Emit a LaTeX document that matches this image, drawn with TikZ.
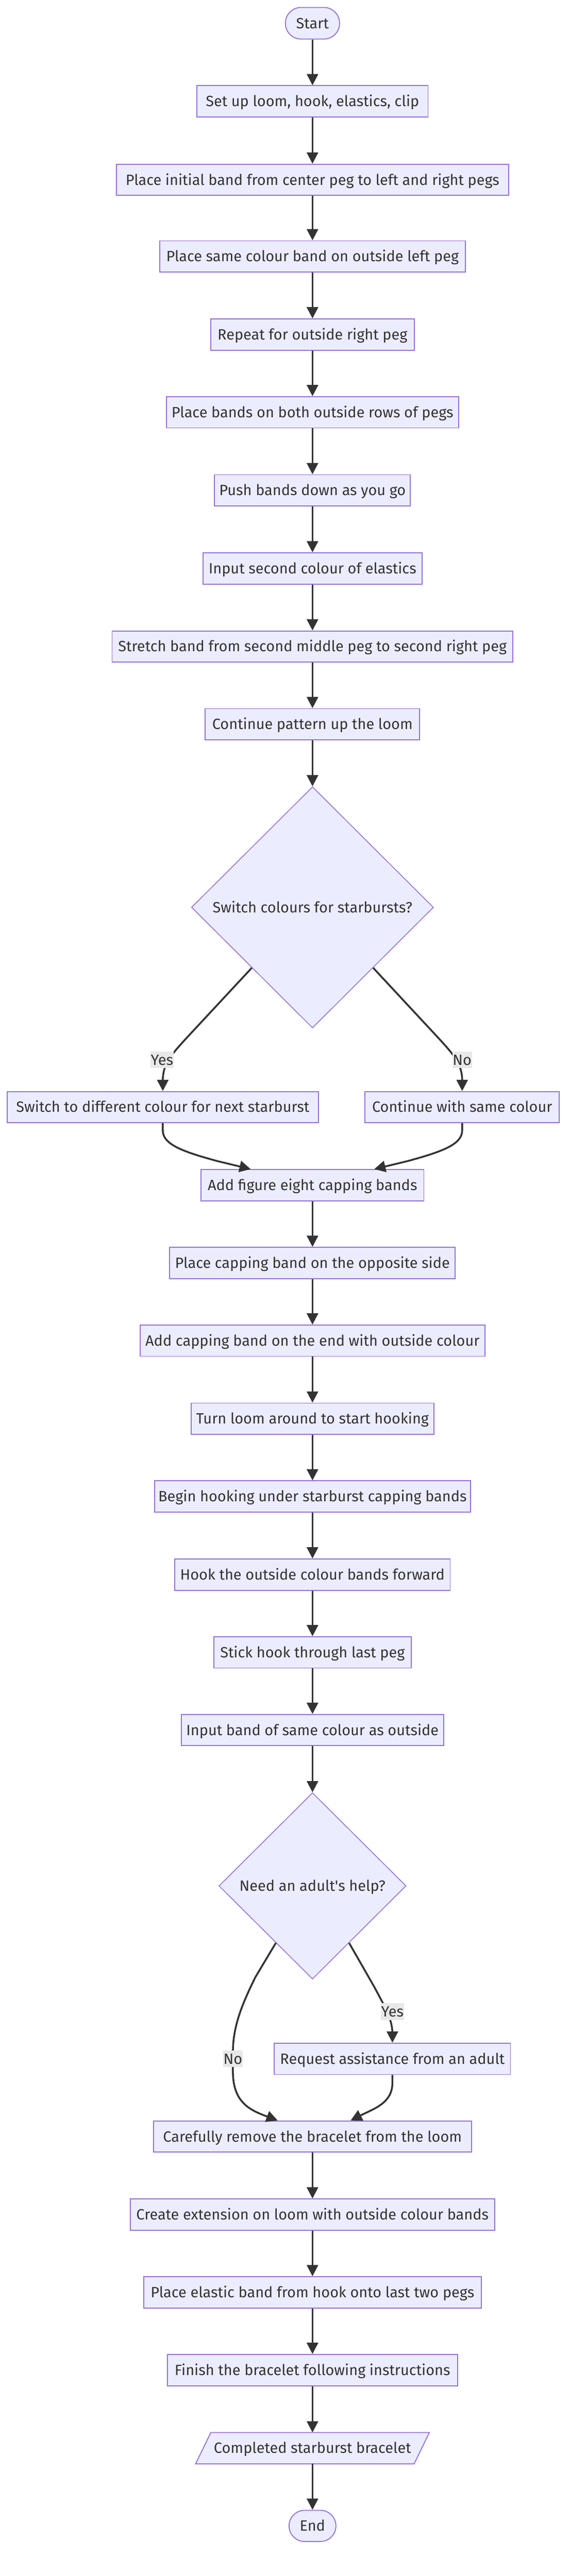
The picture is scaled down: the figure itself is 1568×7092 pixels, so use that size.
\documentclass[tikz,border=0pt]{standalone}
\usepackage{fontspec}
\setmainfont{Fira Sans}
\usetikzlibrary{arrows.meta,shapes.geometric,calc}
\pgfdeclarelayer{bg}
\pgfsetlayers{bg,main}
\definecolor{nfill}{HTML}{ECECFF}
\definecolor{nline}{HTML}{9370DB}
\definecolor{ink}{HTML}{333333}
\definecolor{lblbg}{HTML}{E8E8E8}
\begin{document}
\begin{tikzpicture}[x=1pt,y=-1pt,
  base/.style={font=\fontsize{41}{49}\selectfont, text=ink, text height=28.5pt, text depth=0pt, inner sep=0pt},
  proc/.style={base, draw=nline, fill=nfill, line width=2.6pt, rectangle, minimum height=86pt},
  term/.style={proc, rounded corners=43pt},
  dec/.style={base, draw=nline, fill=nfill, line width=2.2pt, diamond, aspect=1},
  lbl/.style={base, fill=lblbg, inner xsep=1pt, minimum height=46pt},
  conn/.style={draw=ink, line width=5pt, -{Triangle[width=31pt,length=31pt]}},
]
\begin{pgfonlayer}{bg}
\fill[white] (0,0) rectangle (1568,7092);
\end{pgfonlayer}
\useasboundingbox (0,0) rectangle (1568,7092);

\node[term, minimum width=149pt, minimum height=87pt] (n0) at (860,64) {Start};
\node[proc, minimum width=636pt] (n1) at (860,279) {Set up loom, hook, elastics, clip};
\node[proc, minimum width=1079pt] (n2) at (860,495) {Place initial band from center peg to left and right pegs};
\node[proc, minimum width=841pt] (n3) at (860,706) {Place same colour band on outside left peg};
\node[proc, minimum width=560pt] (n4) at (860,921) {Repeat for outside right peg};
\node[proc, minimum width=804pt] (n5) at (860,1135) {Place bands on both outside rows of pegs};
\node[proc, minimum width=539pt] (n6) at (860,1350) {Push bands down as you go};
\node[proc, minimum width=603pt] (n7) at (860,1565) {Input second colour of elastics};
\node[proc, minimum width=1103pt] (n8) at (860,1780) {Stretch band from second middle peg to second right peg};
\node[proc, minimum width=590pt] (n9) at (860,1994) {Continue pattern up the loom};
\node[dec, minimum width=666pt, minimum height=664pt] (d1) at (860,2498) {Switch colours for starbursts?};
\node[proc, minimum width=856pt] (y1) at (448,3048) {Switch to different colour for next starburst};
\node[proc, minimum width=535pt] (no1) at (1272,3048) {Continue with same colour};
\node[proc, minimum width=613pt] (n10) at (860,3263) {Add figure eight capping bands};
\node[proc, minimum width=786pt] (n11) at (860,3477) {Place capping band on the opposite side};
\node[proc, minimum width=949pt] (n12) at (860,3691) {Add capping band on the end with outside colour};
\node[proc, minimum width=668pt] (n13) at (860,3906) {Turn loom around to start hooking};
\node[proc, minimum width=869pt] (n14) at (860,4120) {Begin hooking under starburst capping bands};
\node[proc, minimum width=758pt] (n15) at (860,4335) {Hook the outside colour bands forward};
\node[proc, minimum width=543pt] (n16) at (860,4549) {Stick hook through last peg};
\node[proc, minimum width=722pt] (n17) at (860,4763) {Input band of same colour as outside};
\node[dec, minimum width=515pt, minimum height=513pt] (d2) at (860,5192) {Need an adult\textquotesingle s help?};
\node[proc, minimum width=650pt] (ra) at (1080,5668) {Request assistance from an adult};
\node[proc, minimum width=875pt] (n18) at (860,5882) {Carefully remove the bracelet from the loom};
\node[proc, minimum width=1003pt] (n19) at (860,6097) {Create extension on loom with outside colour bands};
\node[proc, minimum width=929pt] (n20) at (860,6311) {Place elastic band from hook onto last two pegs};
\node[proc, minimum width=798pt] (n21) at (860,6525) {Finish the bracelet following instructions};
\node[base, minimum width=601pt, minimum height=86pt] (out) at (860,6740) {Completed starburst bracelet};
\begin{pgfonlayer}{bg}
\draw[draw=nline, fill=nfill, line width=2.6pt, line join=miter]
  ([xshift=-21pt]out.south west) -- ([xshift=-21pt]out.south east) --
  ([xshift=21pt]out.north east) -- ([xshift=21pt]out.north west) -- cycle;
\end{pgfonlayer}
\node[term, minimum width=129pt] (end) at (860,6954) {End};

% straight connectors
\foreach \a/\b in {n0/n1,n1/n2,n2/n3,n3/n4,n4/n5,n5/n6,n6/n7,n7/n8,n8/n9,n9/d1,
  n10/n11,n11/n12,n12/n13,n13/n14,n14/n15,n15/n16,n16/n17,n17/d2,
  n18/n19,n19/n20,n20/n21,n21/out,out/end}
  \draw[conn] (\a.south) -- (\b.north);

% decision 1
\draw[conn] ($(d1.west)!0.5!(d1.south)$) -- (515,2856)
  .. controls (470,2905) and (448,2930) .. (448,2975) -- (y1.north);
\draw[conn] ($(d1.east)!0.5!(d1.south)$) -- (1205,2856)
  .. controls (1250,2905) and (1272,2930) .. (1272,2975) -- (no1.north);
\draw[conn] (y1.south) -- (448,3112)
  .. controls (448,3150) and (500,3170) .. (600,3197) -- ($(n10.north)+(-170,0)$);
\draw[conn] (no1.south) -- (1272,3112)
  .. controls (1272,3150) and (1220,3170) .. (1120,3197) -- ($(n10.north)+(170,0)$);
\node[lbl] (lyes1) at (446,2918) {Yes};
\node[lbl] (lno1) at (1272,2918) {No};

% decision 2
\draw[conn] ($(d2.west)!0.61!(d2.south)$) -- (703,5443)
  .. controls (665,5520) and (641,5580) .. (641,5650) -- (641,5703)
  .. controls (641,5790) and (690,5810) .. ($(n18.north)+(-96,0)$);
\draw[conn] ($(d2.east)!0.61!(d2.south)$) -- (1030,5470)
  .. controls (1062,5530) and (1080,5560) .. (1080,5600) -- (ra.north);
\draw[conn] (ra.south) -- (1080,5734)
  .. controls (1080,5790) and (1030,5805) .. ($(n18.north)+(105,0)$);
\node[lbl] (lno2) at (641,5668) {No};
\node[lbl] (lyes2) at (1080,5538) {Yes};
\end{tikzpicture}
\end{document}
